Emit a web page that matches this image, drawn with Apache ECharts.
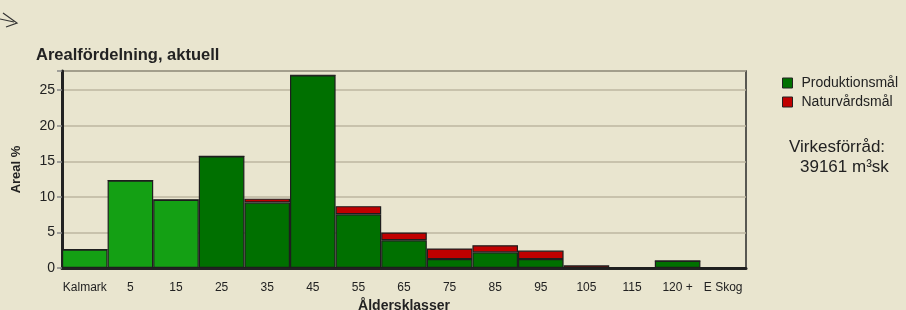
<!DOCTYPE html>
<html>
<head>
<meta charset="utf-8">
<script src="https://cdn.jsdelivr.net/npm/echarts@6/dist/echarts.min.js"></script>
<style>
  html, body { margin: 0; padding: 0; background: #e9e5cf; }
  #chart { width: 906px; height: 310px; }
</style>
</head>
<body>
<div id="chart"></div>
<script>
// åldersklasser
const categories = ['Kalmark', '5', '15', '25', '35', '45', '55', '65', '75', '85', '95', '105', '115', '120 +', 'E Skog']
// areal % per klass
const produktion = [2.6, 12.3, 9.6, 15.7, 9.2, 27.1, 7.55, 3.9, 1.25, 2.2, 1.25, 0, 0, 1.0, 0]
const naturvard = [0, 0, 0, 0, 0.55, 0, 1.15, 1.1, 1.5, 1.0, 1.2, 0.38, 0, 0, 0]
const yTicks = [0, 5, 10, 15, 20, 25]
const virkesforrad = 39161

const lightGreen = '#14a014'
const darkGreen = '#007000'
const red = '#c00000'

const chart = echarts.init(document.getElementById('chart'))

const prodData = produktion.map((v, i) => {
  // de tre första klasserna ritas ljusare
  if (i < 3) return { value: v, itemStyle: { color: lightGreen } }
  return v
})

const font = '17px Liberation Sans, Arial, sans-serif'

const option = {
  backgroundColor: '#e9e5cf',
  animation: false,
  textStyle: { fontFamily: 'Liberation Sans, Arial, sans-serif', color: '#222' },
  title: {
    text: 'Arealfördelning, aktuell',
    left: 36,
    top: 47,
    padding: 0,
    textStyle: { fontSize: 16.5, fontWeight: 'bold', color: '#222' }
  },
  legend: {
    orient: 'vertical',
    left: 777,
    top: 71,
    itemWidth: 10,
    itemHeight: 10,
    itemGap: 5,
    icon: 'rect',
    textStyle: { fontSize: 14, color: '#222', padding: [0, 0, 0, 4] },
    data: [
      { name: 'Produktionsmål', itemStyle: { color: darkGreen, borderColor: '#222', borderWidth: 1 } },
      { name: 'Naturvårdsmål', itemStyle: { color: red, borderColor: '#222', borderWidth: 1 } }
    ]
  },
  grid: {
    left: 62,
    right: 160,
    top: 71,
    bottom: 42,
    outerBoundsMode: 'none',
    containLabel: false,
    show: true,
    borderColor: '#2a2a2a',
    borderWidth: 1.5
  },
  xAxis: {
    type: 'category',
    data: categories,
    name: 'Åldersklasser',
    nameLocation: 'middle',
    nameGap: 31,
    nameTextStyle: { fontSize: 14, fontWeight: 'bold', color: '#222' },
    axisLine: { lineStyle: { color: '#222', width: 3 } },
    axisTick: { alignWithLabel: true, length: 5, lineStyle: { color: '#888', width: 1.5 } },
    axisLabel: { fontSize: 12, color: '#222', margin: 14, interval: 0 }
  },
  yAxis: {
    type: 'value',
    min: 0,
    max: 27.7,
    interval: 5,
    name: 'Areal %',
    nameLocation: 'middle',
    nameGap: 39,
    nameRotate: 90,
    nameTextStyle: { fontSize: 13, fontWeight: 'bold', color: '#222' },
    axisLine: { show: true, lineStyle: { color: '#222', width: 3 } },
    axisTick: { show: true, length: 5, lineStyle: { color: '#888', width: 1.5 } },
    axisLabel: {
      fontSize: 14, color: '#222', margin: 7,
      formatter: v => yTicks.includes(v) ? String(v) : ''
    },
    splitLine: { lineStyle: { color: '#bdb6a0', width: 1.5 } }
  },
  series: [
    {
      name: 'Produktionsmål',
      type: 'bar',
      stack: 'areal',
      barCategoryGap: 0,
      data: prodData,
      itemStyle: { color: darkGreen, borderColor: '#1e1e1e', borderWidth: 1.2 }
    },
    {
      name: 'Naturvårdsmål',
      type: 'bar',
      stack: 'areal',
      barCategoryGap: 0,
      data: naturvard,
      itemStyle: { color: red, borderColor: '#1e1e1e', borderWidth: 1.2 }
    }
  ],
  graphic: [
    {
      type: 'text',
      left: 789,
      top: 139,
      style: { text: 'Virkesförråd:', fill: '#222', font: font }
    },
    {
      type: 'text',
      left: 800,
      top: 159,
      style: { text: virkesforrad + ' m³sk', fill: '#222', font: font }
    },
    {
      type: 'polyline',
      shape: { points: [[3, 13], [17, 23], [6, 27]] },
      style: { stroke: '#333', lineWidth: 1.2, fill: null }
    },
    {
      type: 'line',
      shape: { x1: 0, y1: 19, x2: 14, y2: 22 },
      style: { stroke: '#333', lineWidth: 1.2 }
    }
  ]
}

chart.setOption(option)
</script>
</body>
</html>
